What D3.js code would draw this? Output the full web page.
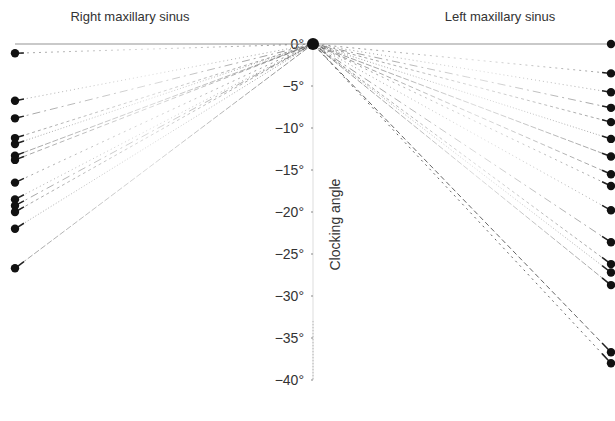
<!DOCTYPE html>
<html lang="en">
<head>
<meta charset="UTF-8">
<title>Clocking angle</title>
<script src="https://d3js.org/d3.v7.min.js"></script>
</head>
<body style="margin:0px;background:#fff;">
<script>
// clocking angle per sinus (degrees)
var rightSinus = [0, -1.1, -6.75, -8.85, -11.2, -11.9, -13.3, -13.8, -16.5, -18.5, -19.25, -20.0, -22.0, -26.7];
var leftSinus = [0, -3.5, -5.75, -7.6, -9.3, -11.3, -13.4, -15.5, -16.9, -19.8, -23.6, -26.2, -27.2, -28.7, -36.7, -38.0];
var ticks = [0, -5, -10, -15, -20, -25, -30, -35, -40];
var sides = ['Right maxillary sinus', 'center', 'Left maxillary sinus'];

var width = 615, height = 421;
var svg = d3.select('body').append('svg')
    .attr('width', width)
    .attr('height', height)
    .style('font-family', 'Arial, Liberation Sans, sans-serif');

var x = d3.scalePoint().domain(sides).range([15, 611]);
var y = d3.scaleLinear().domain([0, -40]).range([44, 380]);

var dashes = ['5,3', '2,4', '1,3', '8,4,2,4', '3,3', '1,2', '6,2'];

// fade links toward the middle, darker at both ends
var defs = svg.append('defs');
function addGrad(id, x1, x2) {
    var gr = defs.append('linearGradient').attr('id', id)
        .attr('gradientUnits', 'userSpaceOnUse')
        .attr('x1', x1).attr('x2', x2).attr('y1', 0).attr('y2', 0);
    gr.append('stop').attr('offset', '0%').attr('stop-color', '#777');
    gr.append('stop').attr('offset', '45%').attr('stop-color', '#ccc');
    gr.append('stop').attr('offset', '100%').attr('stop-color', '#555');
}
addGrad('gradR', x(sides[0]), x('center'));
addGrad('gradL', x(sides[2]), x('center'));

// vertical axis
svg.append('line')
    .attr('x1', x('center')).attr('x2', x('center'))
    .attr('y1', y(0)).attr('y2', y(-40))
    .attr('stroke', '#ddd').attr('stroke-width', 1);
svg.append('line')
    .attr('x1', x('center')).attr('x2', x('center'))
    .attr('y1', y(-33)).attr('y2', y(-40))
    .attr('stroke', '#aaa').attr('stroke-dasharray', '1,2');

svg.selectAll('text.tick').data(ticks).enter().append('text')
    .attr('class', 'tick')
    .attr('x', x('center') - 9)
    .attr('y', function (d) { return y(d) + 5; })
    .attr('text-anchor', 'end')
    .attr('font-size', '14px')
    .attr('fill', '#333')
    .text(function (d) { return (d < 0 ? '\u2212' + (-d) : d) + '\u00b0'; });
svg.selectAll('line.tick').data(ticks).enter().append('line')
    .attr('class', 'tick')
    .attr('x1', x('center') - 2).attr('x2', x('center'))
    .attr('y1', function (d) { return y(d); })
    .attr('y2', function (d) { return y(d); })
    .attr('stroke', '#888');

svg.append('text')
    .attr('transform', 'translate(' + (x('center') + 27) + ',' + y(-21.5) + ') rotate(-90)')
    .attr('text-anchor', 'middle')
    .attr('font-size', '14px')
    .attr('fill', '#333')
    .text('Clocking angle');

// headers
svg.append('text').attr('x', 130).attr('y', 21).attr('text-anchor', 'middle')
    .attr('font-size', '13px').attr('fill', '#333').text('Right maxillary sinus');
svg.append('text').attr('x', 500).attr('y', 21).attr('text-anchor', 'middle')
    .attr('font-size', '13px').attr('fill', '#333').text('Left maxillary sinus');

function drawSide(values, side, grad) {
    var g = svg.append('g');
    var cx = x('center'), sx = x(side);
    g.selectAll('line.link').data(values).enter().append('line')
        .attr('class', 'link')
        .attr('x1', sx).attr('y1', function (d) { return y(d) + 0.01; })
        .attr('x2', cx).attr('y2', y(0))
        .attr('stroke', function (d) { return d === 0 ? '#888' : (d < -30 ? '#555' : 'url(#' + grad + ')'); })
        .attr('stroke-opacity', function (d) { return d === 0 ? 0.9 : (d < -30 ? 0.9 : 0.7); })
        .attr('stroke-width', 1)
        .attr('stroke-dasharray', function (d, i) { return d === 0 ? null : dashes[i % dashes.length]; });
    // short dark stub near each dot
    g.selectAll('line.stub').data(values.filter(function (d) { return d !== 0; })).enter().append('line')
        .attr('class', 'stub')
        .attr('x1', sx).attr('y1', function (d) { return y(d); })
        .attr('x2', function (d) { return sx + (cx - sx) * 0.03; })
        .attr('y2', function (d) { return y(d) + (y(0) - y(d)) * 0.03; })
        .attr('stroke', '#222').attr('stroke-width', 1.5);
    g.selectAll('circle').data(values.filter(function (d) { return side !== sides[0] || d !== 0; }))
        .enter().append('circle')
        .attr('cx', sx).attr('cy', function (d) { return y(d); })
        .attr('r', 4.2).attr('fill', '#111');
}
drawSide(rightSinus, sides[0], 'gradR');
drawSide(leftSinus, sides[2], 'gradL');

svg.append('circle').attr('cx', x('center')).attr('cy', y(0)).attr('r', 6).attr('fill', '#111');
</script>
</body>
</html>
